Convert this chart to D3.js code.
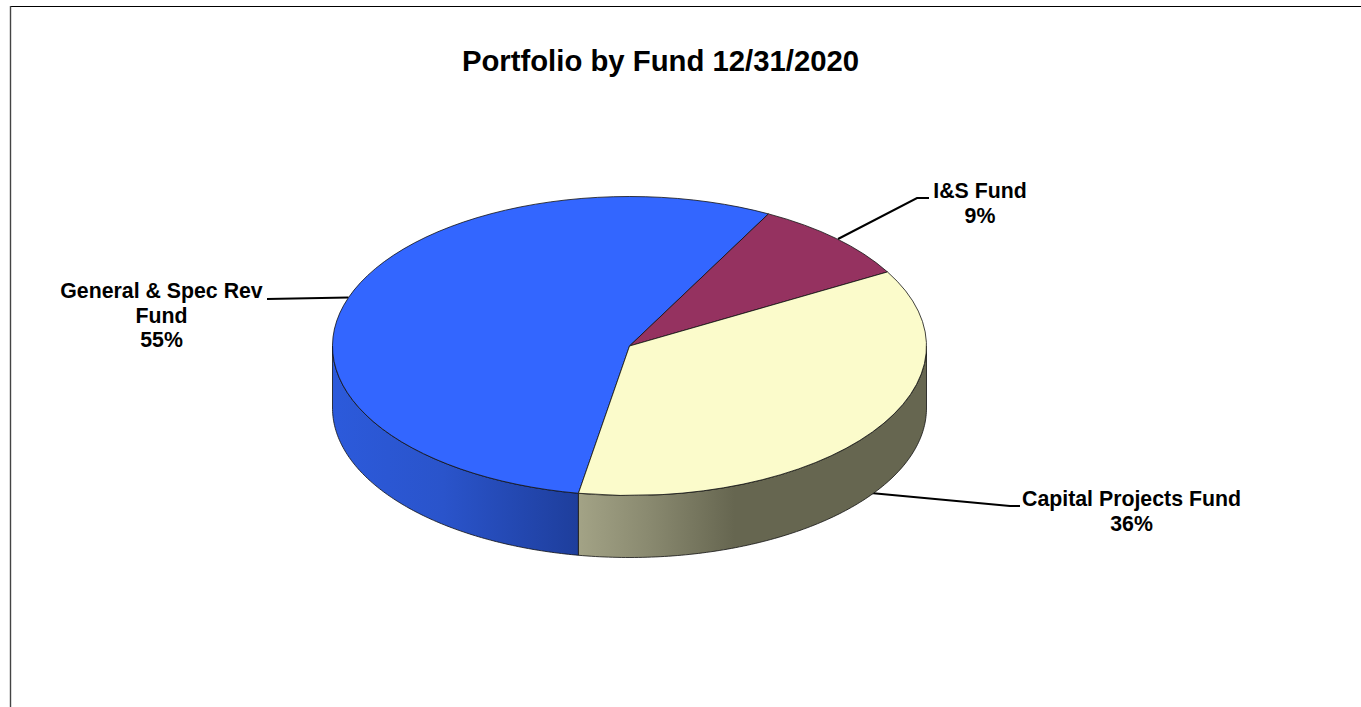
<!DOCTYPE html>
<html><head><meta charset="utf-8">
<style>html,body{margin:0;padding:0;background:#fff;overflow:hidden}svg{display:block}
text{font-family:"Liberation Sans",Arial,sans-serif;font-weight:700;fill:#000}</style>
<script src="https://cdn.jsdelivr.net/npm/d3@7/dist/d3.min.js"></script></head><body>
<script>
const categories = ["General & Spec Rev Fund", "I&S Fund", "Capital Projects Fund"];
const values = [55, 9, 36];
const topColors = ["#3366FF", "#953260", "#FBFBCB"];
const titleText = "Portfolio by Fund 12/31/2020";

const W = 1361, H = 707, cx = 629.5, cy = 346, rx = 297, ry = 149.5, depth = 62;
const svg = d3.select("body").append("svg").attr("width", W).attr("height", H);
const defs = svg.append("defs");
function grad(id, x1, x2, stops) {
  const g = defs.append("linearGradient").attr("id", id).attr("gradientUnits", "userSpaceOnUse")
    .attr("x1", x1).attr("x2", x2).attr("y1", 0).attr("y2", 0);
  stops.forEach(s => g.append("stop").attr("offset", s[0]).attr("stop-color", s[1]));
}
grad("wall0", 333, 578, [[0, "#2C5ADB"], [0.45, "#2A54CB"], [1, "#1E3E9C"]]);
grad("wall2", 578, 926, [[0, "#A3A386"], [0.2, "#8A8A70"], [0.45, "#666650"], [1, "#666650"]]);

// frame
svg.append("line").attr("x1", 10).attr("x2", W).attr("y1", 6.5).attr("y2", 6.5).attr("stroke", "#000").attr("stroke-width", 1);
svg.append("line").attr("x1", 10.5).attr("x2", 10.5).attr("y1", 6).attr("y2", H).attr("stroke", "#444").attr("stroke-width", 1.4);

const start = 189.9 * Math.PI / 180;
const pie = d3.pie().sort(null).startAngle(start).endAngle(start + 2 * Math.PI);
const arcs = pie(values);
const px = d3.scaleLinear().domain([-1, 1]).range([cx - rx, cx + rx]);
const py = d3.scaleLinear().domain([-1, 1]).range([cy - ry, cy + ry]);
const pt = (a, dy = 0) => [px(Math.sin(a)), py(-Math.cos(a)) + dy];

// leader lines (behind the pie)
const leaders = [
  [[267, 299], pt(arcs[0].startAngle + (arcs[0].endAngle - arcs[0].startAngle) * 0.5)],
  [[929, 198], [917, 198], [838, 239]],
  [[1020, 506], [1010, 506], [860, 492]]
];
leaders.forEach(l => svg.append("path").attr("d", d3.line()(l)).attr("fill", "none").attr("stroke", "#000").attr("stroke-width", 2));

// walls: only the front half (90deg..270deg) is visible
const front = [Math.PI / 2, 3 * Math.PI / 2];
arcs.forEach((d, i) => {
  const cands = [[d.startAngle, d.endAngle], [d.startAngle - 2 * Math.PI, d.endAngle - 2 * Math.PI]];
  cands.forEach(([s, e]) => {
    const a0 = Math.max(s, front[0]), a1 = Math.min(e, front[1]);
    if (a1 <= a0) return;
    const st = d3.range(0, 121).map(k => a0 + (a1 - a0) * k / 120);
    const poly = st.map(a => pt(a)).concat(st.slice().reverse().map(a => pt(a, depth)));
    svg.append("path").attr("d", d3.line()(poly) + "Z").attr("fill", `url(#wall${i})`)
      .attr("stroke", "#111").attr("stroke-width", 0.8);
  });
});

// top face
const arc = d3.arc().innerRadius(0).outerRadius(rx);
svg.append("g").attr("transform", `translate(${cx},${cy}) scale(1,${ry / rx})`)
  .selectAll("path").data(arcs).join("path")
  .attr("d", arc).attr("fill", (d, i) => topColors[i])
  .attr("stroke", "#111").attr("stroke-width", 0.8).attr("vector-effect", "non-scaling-stroke");

// text
svg.append("text").attr("x", 660.5).attr("y", 71).attr("text-anchor", "middle").attr("font-size", 29.3).text(titleText);
const labels = [
  {x: 161.5, y: 298, lines: ["General & Spec Rev", "Fund", values[0] + "%"]},
  {x: 980, y: 198, lines: [categories[1], values[1] + "%"]},
  {x: 1131.5, y: 506, lines: [categories[2], values[2] + "%"]}
];
labels.forEach(l => {
  const t = svg.append("text").attr("text-anchor", "middle").attr("font-size", 21.3);
  l.lines.forEach((s, k) => t.append("tspan").attr("x", l.x).attr("y", l.y + k * 24.5).text(s));
});
</script></body></html>
